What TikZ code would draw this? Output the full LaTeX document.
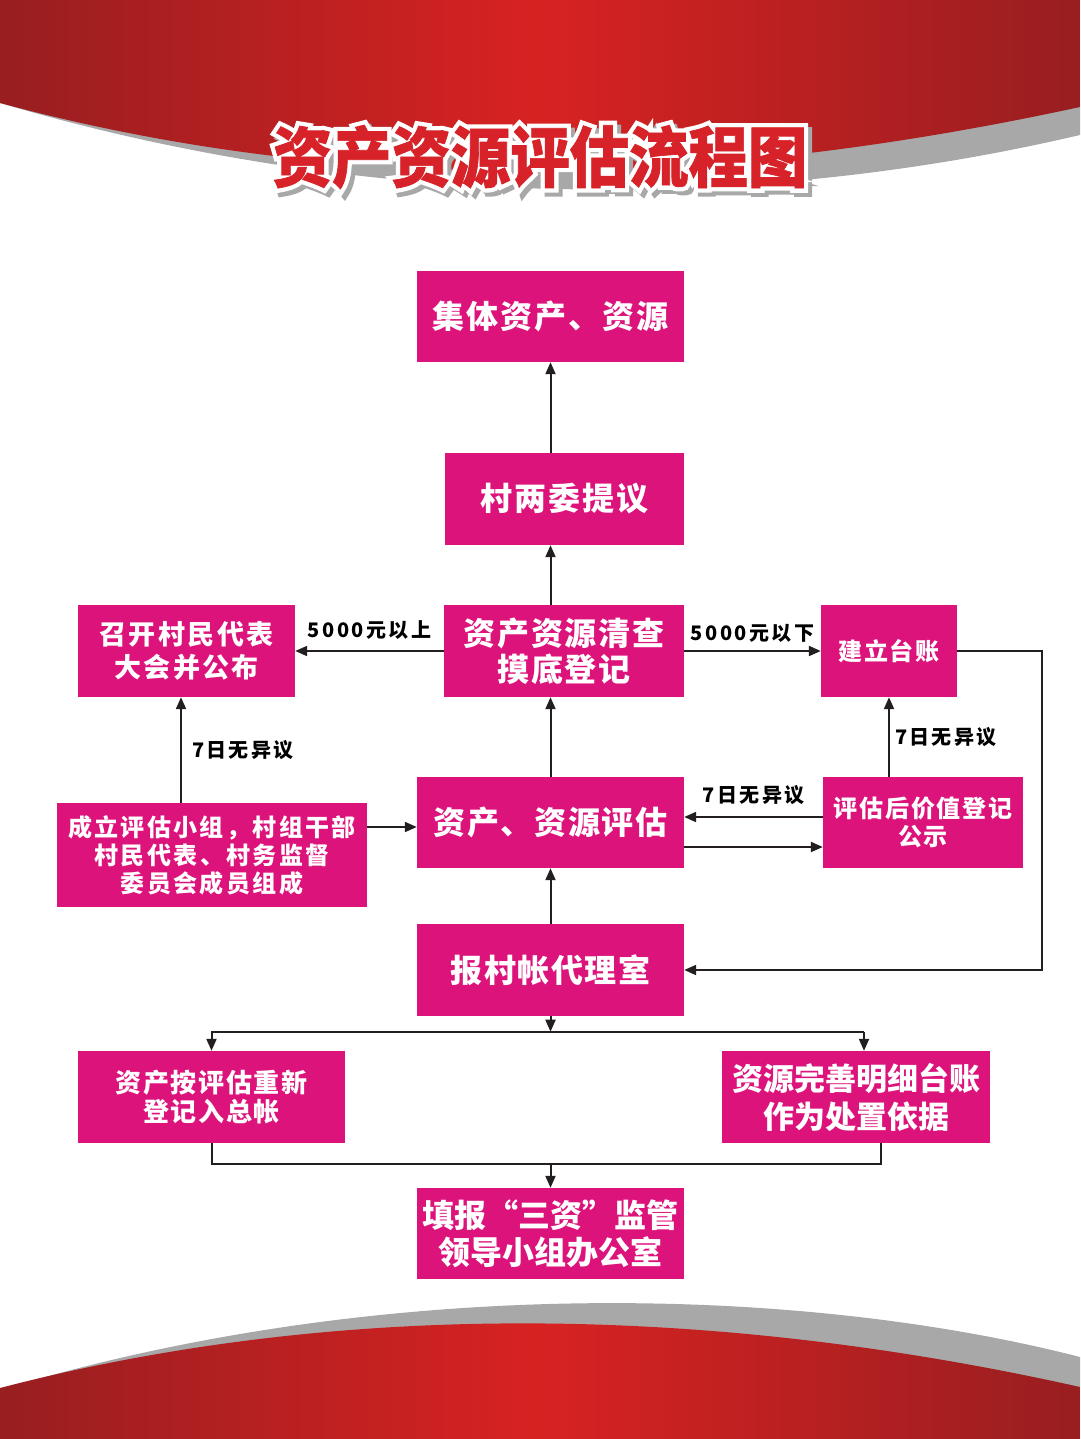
\documentclass[tikz,border=0pt]{standalone}
\usepackage{fontspec}
\setmainfont{Noto Sans CJK SC}
\newfontfamily\cjk{Noto Sans CJK SC}
\usetikzlibrary{arrows.meta,calc}
\definecolor{boxmag}{RGB}{221,19,124}
\definecolor{redD}{RGB}{152,30,32}
\definecolor{redL}{RGB}{216,34,34}
\definecolor{titlered}{RGB}{214,34,40}
\definecolor{shadowgray}{RGB}{168,168,168}
\definecolor{linec}{RGB}{35,31,32}
\newcommand{\boxfnt}[3]{\cjk\bfseries\fontsize{#1}{#2}\selectfont\addfontfeatures{LetterSpace=#3}}
\newcommand{\ttlfnt}[1]{\cjk\bfseries\fontsize{66}{70}\selectfont\addfontfeatures{FakeStretch=0.9,FakeBold=#1}}
\tikzset{
  box/.style={fill=boxmag, text=white, inner sep=0pt, align=center},
  arr/.style={draw=linec, line width=2pt, -{Triangle[length=12pt,width=10pt]}},
  ln/.style={draw=linec, line width=2pt},
  lbl/.style={text=black, inner sep=0pt, font={\boxfnt{20}{24}{12}}},
  ttl/.style={inner sep=0pt},
}
\begin{document}
\begin{tikzpicture}[x=1pt,y=-1pt]
\useasboundingbox (0,0) rectangle (1080,1439);
\fill[white] (0,0) rectangle (1080,1439);
% top band
\fill[shadowgray] (0,0) -- (0,103) .. controls (380,215) and (760,210) .. (1080,135) -- (1080,0) -- cycle;
\shade[left color=redD, right color=redD, middle color=redL] (0,0) -- (0,103) .. controls (360,200) and (720,185) .. (1080,107) -- (1080,0) -- cycle;
% bottom band
\fill[shadowgray] (0,1439) -- (0,1390) .. controls (380,1275) and (800,1285) .. (1080,1357) -- (1080,1439) -- cycle;
\shade[left color=redD, right color=redD, middle color=redL] (0,1439) -- (0,1388) .. controls (330,1302) and (700,1302) .. (1080,1387) -- (1080,1439) -- cycle;
% title: gray shadow, white outline, red face
\node[ttl, text=shadowgray, font={\ttlfnt{14}}] (tg) at (544,161) {资产资源评估流程图};
\node[ttl, text=white, font={\ttlfnt{14}}] (tw) at (540,157) {资产资源评估流程图};
\node[ttl, text=titlered, font={\ttlfnt{1}}] (title) at (540,157) {资产资源评估流程图};
% boxes
\node[box, minimum width=267pt, minimum height=91pt, font={\boxfnt{32}{38}{6}}] (n1) at (550.5,316.5) {集体资产、资源};
\node[box, minimum width=239pt, minimum height=92pt, font={\boxfnt{32}{38}{6}}] (n2) at (564.5,499) {村两委提议};
\node[box, minimum width=240pt, minimum height=92pt, font={\boxfnt{32}{36}{6}}] (n3) at (564,651) {资产资源清查\\摸底登记};
\node[box, minimum width=217pt, minimum height=92pt, font={\boxfnt{27}{33}{9}}] (n4) at (186.5,651) {召开村民代表\\大会并公布};
\node[box, minimum width=136pt, minimum height=92pt, font={\boxfnt{24}{28}{8}}] (n5) at (889,651) {建立台账};
\node[box, minimum width=267pt, minimum height=91pt, font={\boxfnt{32}{38}{5}}] (n6) at (550.5,822.5) {资产、资源评估};
\node[box, minimum width=310pt, minimum height=104pt, font={\boxfnt{24}{28}{10}}] (n7) at (212,855) {成立评估小组，村组干部\\村民代表、村务监督\\委员会成员组成};
\node[box, minimum width=200pt, minimum height=91pt, font={\boxfnt{24}{28}{8}}] (n8) at (923,822.5) {评估后价值登记\\公示};
\node[box, minimum width=267pt, minimum height=92pt, font={\boxfnt{32}{38}{5}}] (n9) at (550.5,970) {报村帐代理室};
\node[box, minimum width=267pt, minimum height=92pt, font={\boxfnt{26}{29}{6}}] (n10) at (211.5,1097) {资产按评估重新\\登记入总帐};
\node[box, minimum width=268pt, minimum height=92pt, font={\boxfnt{31}{38}{0}}] (n11) at (856,1097) {资源完善明细台账\\作为处置依据};
\node[box, minimum width=267pt, minimum height=91pt, font={\boxfnt{32}{37}{0}}] (n12) at (550.5,1233.5) {填报{\addfontfeature{CharacterWidth=Full}“}三资{\addfontfeature{CharacterWidth=Full}”}监管\\领导小组办公室};
% helper coordinates
\coordinate (p74) at ($(n4.south)+(-5.5,0)$);
\coordinate (p76) at ($(n6.west)+(0,4.5)$);
\coordinate (p86) at ($(n6.east)+(0,-5.5)$);
\coordinate (p68) at ($(n6.east)+(0,24.5)$);
\coordinate (sp) at ($(n9.south)+(0,15.5)$);
\coordinate (p11) at ($(n11.north)+(8,0)$);
\coordinate (mg) at ($(n12.north)+(0,-24)$);
\coordinate (p11b) at ($(n11.south)+(25,0)$);
% connectors
\draw[arr] (n1.south |- n3.north) -- (n1.south |- n2.south);
\draw[arr] (n1.south |- n2.north) -- (n1.south);
\draw[arr] (n3.west) -- node[lbl, yshift=21pt] (l1) {5000元以上} (n4.east);
\draw[arr] (n3.east) -- node[lbl, yshift=18pt] (l2) {5000元以下} (n5.west);
\draw[arr] (n7.north -| p74) -- node[lbl, anchor=west, xshift=10pt] (l3) {7日无异议} (p74);
\draw[arr] (n7.east |- p76) -- (p76);
\draw[arr] (n1.south |- n6.north) -- (n1.south |- n3.south);
\draw[arr] (n8.west |- p86) -- node[lbl, yshift=22pt] (l4) {7日无异议} (p86);
\draw[arr] (p68) -- (n8.west |- p68);
\draw[arr] (n5.south |- n8.north) -- node[lbl, anchor=west, xshift=5pt] (l5) {7日无异议} (n5.south);
\draw[arr] (n5.east) -- ++(85,0) |- (n9.east);
\draw[arr] (n1.south |- n9.north) -- (n1.south |- n6.south);
\draw[arr] (n1.south |- n9.south) -- (n1.south |- sp);
\draw[arr] (sp -| p11) -- (sp -| n10.north) -- (n10.north);
\draw[arr] (sp -| p11) -- (p11);
\draw[ln] (n10.south) |- (p11b |- mg) -- (p11b);
\draw[arr] (mg) -- (n12.north);
\end{tikzpicture}
\end{document}
